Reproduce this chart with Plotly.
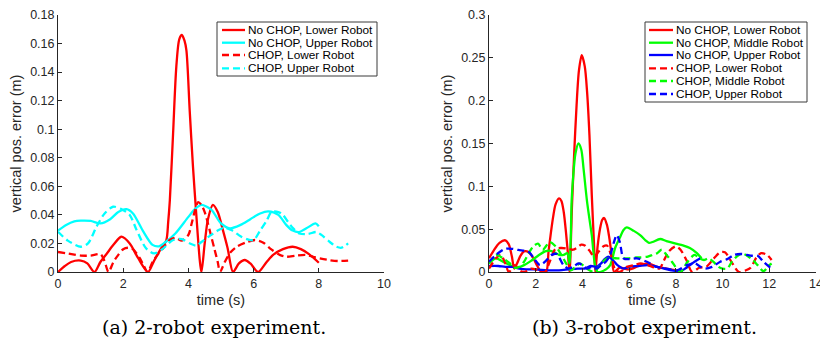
import plotly.graph_objects as go

# ---------------- data: (a) 2-robot experiment ----------------
a_names = ["No CHOP, Lower Robot", "No CHOP, Upper Robot", "CHOP, Lower Robot", "CHOP, Upper Robot"]

a_nochop_lower_t = [0, 0.2, 0.4, 0.7, 0.9, 1.12, 1.3, 1.5, 1.7, 1.94, 2.2, 2.45, 2.76, 2.95, 3.15, 3.32,
                    3.38, 3.43, 3.53, 3.63, 3.72, 3.8, 3.88, 3.94, 4.04, 4.14, 4.24, 4.35, 4.4, 4.5, 4.6,
                    4.75, 4.9, 5.05, 5.2, 5.37, 5.55, 5.73, 5.9, 6.14, 6.4, 6.6, 6.9, 7.2, 7.45, 7.7, 8.0]
a_nochop_lower_v = [0, 0.004, 0.007, 0.008, 0.006, 0, 0.007, 0.013, 0.019, 0.0247, 0.02, 0.01, 0, 0.008,
                    0.016, 0.022, 0.035, 0.05, 0.097, 0.144, 0.163, 0.166, 0.162, 0.155, 0.113, 0.074,
                    0.041, 0.008, 0, 0.02, 0.037, 0.047, 0.042, 0.03, 0.017, 0, 0.006, 0.0084, 0.006, 0,
                    0.007, 0.012, 0.016, 0.0177, 0.016, 0.0125, 0.0065]

a_nochop_upper_t = [0, 0.25, 0.5, 0.7, 1.0, 1.3, 1.6, 1.85, 2.1, 2.3, 2.6, 2.9, 3.1, 3.3, 3.6, 4.0, 4.2,
                    4.4, 4.7, 5.0, 5.27, 5.6, 5.9, 6.2, 6.45, 6.76, 7.0, 7.2, 7.4, 7.62, 7.9, 8.0]
a_nochop_upper_v = [0.029, 0.033, 0.0355, 0.036, 0.0358, 0.034, 0.037, 0.042, 0.044, 0.041, 0.029, 0.019,
                    0.018, 0.021, 0.027, 0.0386, 0.044, 0.047, 0.0437, 0.034, 0.0306, 0.033, 0.037, 0.041,
                    0.0425, 0.04, 0.033, 0.029, 0.028, 0.0306, 0.034, 0.032]

a_chop_lower_t = [0, 0.3, 0.7, 1.0, 1.3, 1.42, 1.55, 1.7, 1.85, 2.0, 2.15, 2.3, 2.5, 2.62, 2.75, 2.9,
                  3.05, 3.2, 3.4, 3.6, 3.8, 4.0, 4.1, 4.2, 4.3, 4.4, 4.5, 4.6, 4.7, 4.8, 4.9, 4.97, 5.12,
                  5.3, 5.5, 5.8, 6.05, 6.3, 6.5, 6.8, 7.0, 7.3, 7.6, 7.9, 8.3, 8.6, 8.9]
a_chop_lower_v = [0.014, 0.013, 0.0115, 0.0115, 0.0125, 0.008, 0, 0.007, 0.012, 0.016, 0.017, 0.016, 0.01,
                  0.005, 0, 0.007, 0.012, 0.016, 0.022, 0.024, 0.022, 0.026, 0.034, 0.043, 0.049, 0.047,
                  0.042, 0.034, 0.025, 0.016, 0.007, 0, 0.0072, 0.014, 0.018, 0.021, 0.0224, 0.0205,
                  0.0166, 0.012, 0.0107, 0.0115, 0.012, 0.0102, 0.0084, 0.0077, 0.008]

a_chop_upper_t = [0, 0.3, 0.7, 0.92, 1.18, 1.43, 1.69, 1.95, 2.2, 2.4, 2.7, 2.95, 3.2, 3.53, 3.8, 4.05,
                  4.25, 4.4, 4.7, 4.9, 5.1, 5.35, 5.6, 5.8, 6.0, 6.2, 6.4, 6.55, 6.76, 6.9, 7.06, 7.2,
                  7.4, 7.67, 7.92, 8.08, 8.34, 8.54, 8.7, 8.9]
a_chop_upper_v = [0.0282, 0.022, 0.0177, 0.02, 0.0317, 0.041, 0.0457, 0.044, 0.04, 0.03, 0.0166, 0.013,
                  0.016, 0.0224, 0.023, 0.02, 0.0185, 0.021, 0.026, 0.029, 0.031, 0.029, 0.025, 0.023,
                  0.0224, 0.029, 0.036, 0.042, 0.042, 0.04, 0.035, 0.031, 0.027, 0.0266, 0.028, 0.026,
                  0.021, 0.0177, 0.017, 0.02]

# ---------------- data: (b) 3-robot experiment ----------------
b_names = ["No CHOP, Lower Robot", "No CHOP, Middle Robot", "No CHOP, Upper Robot",
           "CHOP, Lower Robot", "CHOP, Middle Robot", "CHOP, Upper Robot"]

b_nochop_lower_t = [0, 0.2, 0.45, 0.7, 0.85, 0.98, 1.08, 1.2, 1.35, 1.5, 1.7, 1.9, 2.05, 2.2, 2.3, 2.45,
                    2.55, 2.65, 2.75, 2.85, 3.0, 3.1, 3.2, 3.3, 3.4, 3.45, 3.55, 3.65, 3.75, 3.85, 3.97,
                    4.1, 4.2, 4.3, 4.4, 4.5, 4.55, 4.65, 4.75, 4.85, 4.93, 5.05, 5.15, 5.25, 5.36, 5.6,
                    6.0, 6.4, 6.8, 7.2, 7.6, 8.0, 8.3]
b_nochop_lower_v = [0.016, 0.025, 0.034, 0.037, 0.032, 0.018, 0.004, 0.01, 0.019, 0.024, 0.023, 0.016,
                    0.008, 0.001, 0.0, 0.0, 0.024, 0.046, 0.065, 0.079, 0.086, 0.083, 0.07, 0.045, 0.015,
                    0.0, 0.075, 0.14, 0.195, 0.235, 0.253, 0.24, 0.21, 0.16, 0.09, 0.03, 0.0, 0.03, 0.05,
                    0.061, 0.063, 0.055, 0.04, 0.02, 0.0, 0.005, 0.003, 0.007, 0.01, 0.006, 0.004, 0.002,
                    0.001]

b_nochop_middle_t = [0, 0.3, 0.6, 0.9, 1.2, 1.5, 1.8, 2.1, 2.4, 2.6, 2.8, 3.0, 3.2, 3.35, 3.45, 3.5,
                     3.54, 3.6, 3.7, 3.83, 3.95, 4.05, 4.19, 4.3, 4.4, 4.54, 4.65, 5.0, 5.19, 5.4, 5.6,
                     5.76, 5.9, 6.2, 6.47, 6.7, 6.85, 7.0, 7.33, 7.6, 8.0, 8.3, 8.6, 8.9, 9.1]
b_nochop_middle_v = [0.01, 0.016, 0.012, 0.008, 0.005, 0.008, 0.013, 0.019, 0.024, 0.025, 0.023, 0.02,
                     0.02, 0.022, 0.01, 0.04, 0.084, 0.11, 0.138, 0.15, 0.143, 0.12, 0.084, 0.062, 0.043,
                     0.008, 0.0, 0.003, 0.008, 0.028, 0.04, 0.049, 0.052, 0.048, 0.043, 0.037, 0.034,
                     0.035, 0.0385, 0.036, 0.033, 0.031, 0.028, 0.022, 0.016]

b_nochop_upper_t = [0, 0.4, 0.7, 1.0, 1.3, 1.6, 2.0, 2.5, 3.0, 3.4, 3.8, 4.1, 4.35, 4.6, 4.8, 4.95, 5.1,
                    5.3, 5.5, 5.76, 6.0, 6.4, 6.8, 7.2, 7.5, 7.8, 8.2, 8.4, 8.6, 8.8, 9.05]
b_nochop_upper_v = [0.007, 0.007, 0.006, 0.006, 0.004, 0.003, 0.003, 0.002, 0.002, 0.003, 0.004, 0.004,
                    0.007, 0.006, 0.01, 0.015, 0.018, 0.014, 0.008, 0.004, 0.006, 0.007, 0.008, 0.006,
                    0.004, 0.002, 0.001, 0.004, 0.008, 0.012, 0.016]

b_chop_lower_t = [0, 0.3, 0.5, 0.7, 0.85, 1.1, 1.3, 1.5, 1.8, 2.0, 2.2, 2.4, 2.6, 2.85, 3.1, 3.4, 3.6,
                  3.75, 3.95, 4.1, 4.3, 4.5, 4.7, 4.9, 5.05, 5.2, 5.4, 5.6, 5.9, 6.2, 6.5, 6.8, 7.1, 7.3,
                  7.5, 7.7, 8.0, 8.2, 8.45, 8.7, 9.0, 9.3, 9.6, 9.9, 10.1, 10.4, 10.7, 11.0, 11.2, 11.45,
                  11.65, 11.9, 12.1]
b_chop_lower_v = [0.004, 0.016, 0.02, 0.01, 0.0, 0.008, 0.002, 0.0, 0.004, 0.003, 0.0, 0.0, 0.012, 0.027,
                  0.028, 0.027, 0.026, 0.028, 0.032, 0.031, 0.025, 0.018, 0.024, 0.03, 0.031, 0.022,
                  0.003, 0.0, 0.006, 0.008, 0.01, 0.008, 0.005, 0.004, 0.014, 0.024, 0.03, 0.026, 0.014,
                  0.0, 0.005, 0.006, 0.015, 0.023, 0.023, 0.011, 0.0, 0.002, 0.005, 0.017, 0.022, 0.02,
                  0.014]

b_chop_middle_t = [0, 0.3, 0.6, 0.9, 1.1, 1.3, 1.5, 1.7, 1.9, 2.1, 2.3, 2.6, 2.85, 3.1, 3.3, 3.5, 3.7,
                   3.9, 4.1, 4.3, 4.5, 4.7, 5.0, 5.2, 5.5, 5.76, 6.0, 6.3, 6.5, 6.8, 7.0, 7.2, 7.4, 7.6,
                   7.83, 8.04, 8.2, 8.5, 8.8, 9.0, 9.2, 9.4, 9.6, 9.83, 10.0, 10.2, 10.4, 10.7, 10.9,
                   11.1, 11.3, 11.5, 11.75, 12.0, 12.1]
b_chop_middle_v = [0.01, 0.02, 0.016, 0.01, 0.005, 0.006, 0.012, 0.022, 0.03, 0.033, 0.026, 0.035, 0.03,
                   0.02, 0.01, 0.002, 0.006, 0.01, 0.006, 0.002, 0.0, 0.006, 0.015, 0.016, 0.016, 0.016,
                   0.016, 0.017, 0.017, 0.018, 0.02, 0.022, 0.026, 0.02, 0.012, 0.004, 0.0, 0.012, 0.02,
                   0.016, 0.014, 0.016, 0.012, 0.006, 0.004, 0.004, 0.012, 0.02, 0.021, 0.018, 0.014,
                   0.008, 0.001, 0.008, 0.01]

b_chop_upper_t = [0, 0.3, 0.69, 1.0, 1.26, 1.69, 1.97, 2.18, 2.4, 2.69, 2.9, 3.19, 3.4, 3.6, 3.83, 4.0,
                  4.2, 4.4, 4.6, 4.8, 5.0, 5.19, 5.35, 5.47, 5.6, 5.76, 6.0, 6.33, 6.76, 7.19, 7.6, 8.05,
                  8.47, 8.83, 9.05, 9.26, 9.55, 9.9, 10.2, 10.5, 10.83, 11.2, 11.5, 11.75, 12.05]
b_chop_upper_v = [0.012, 0.02, 0.027, 0.027, 0.0257, 0.0237, 0.014, 0.008, 0.012, 0.02, 0.021, 0.008,
                  0.004, 0.006, 0.01, 0.008, 0.004, 0.006, 0.004, 0.008, 0.012, 0.02, 0.035, 0.043, 0.035,
                  0.016, 0.015, 0.016, 0.012, 0.006, 0.004, 0.002, 0.008, 0.01, 0.006, 0.004, 0.006,
                  0.012, 0.015, 0.02, 0.021, 0.019, 0.019, 0.012, 0.005]

a_x_ticks = [0, 2, 4, 6, 8, 10]
a_y_ticks = [0, 0.02, 0.04, 0.06, 0.08, 0.1, 0.12, 0.14, 0.16, 0.18]
b_x_ticks = [0, 2, 4, 6, 8, 10, 12, 14]
b_y_ticks = [0, 0.05, 0.1, 0.15, 0.2, 0.25, 0.3]

captions = ["(a) 2-robot experiment.", "(b) 3-robot experiment."]

# ---------------- styling ----------------
W, H = 820, 338
RED, CYAN, GREEN, BLUE = "#ff0000", "#00ffff", "#00ff00", "#0000ff"
DASH = "7px,4px"
AX = "#262626"
SANS = "Liberation Sans, Arial, sans-serif"
LW = 2.3


def px(x):
    return x / W


def py(y):
    return 1 - y / H


fig = go.Figure()

a_series = [
    (a_nochop_lower_t, a_nochop_lower_v, RED, "solid"),
    (a_nochop_upper_t, a_nochop_upper_v, CYAN, "solid"),
    (a_chop_lower_t, a_chop_lower_v, RED, DASH),
    (a_chop_upper_t, a_chop_upper_v, CYAN, DASH),
]
b_series = [
    (b_nochop_lower_t, b_nochop_lower_v, RED, "solid"),
    (b_nochop_middle_t, b_nochop_middle_v, GREEN, "solid"),
    (b_nochop_upper_t, b_nochop_upper_v, BLUE, "solid"),
    (b_chop_lower_t, b_chop_lower_v, RED, DASH),
    (b_chop_middle_t, b_chop_middle_v, GREEN, DASH),
    (b_chop_upper_t, b_chop_upper_v, BLUE, DASH),
]

for (t, v, c, d), name in zip(a_series, a_names):
    fig.add_trace(go.Scatter(x=t, y=v, mode="lines", name=name, showlegend=False,
                             line=dict(color=c, width=LW, dash=d, shape="spline", smoothing=0.8),
                             xaxis="x", yaxis="y"))
for (t, v, c, d), name in zip(b_series, b_names):
    fig.add_trace(go.Scatter(x=t, y=v, mode="lines", name=name, showlegend=False,
                             line=dict(color=c, width=LW, dash=d, shape="spline", smoothing=0.8),
                             xaxis="x2", yaxis="y2"))

ax_common = dict(showgrid=False, zeroline=False, showline=True, linecolor=AX, linewidth=1,
                 ticks="inside", ticklen=4, tickcolor=AX, tickwidth=1, automargin=False,
                 ticklabeloverflow="allow",
                 tickfont=dict(family=SANS, size=12.5, color=AX), mirror=False)
title_font = dict(family=SANS, size=14.5, color=AX)

ydom = [py(272), py(15)]
fig.update_layout(
    template="none",
    width=W, height=H, margin=dict(l=0, r=0, t=0, b=0, autoexpand=False),
    paper_bgcolor="white", plot_bgcolor="white", showlegend=False,
    xaxis=dict(domain=[px(58), px(384)], range=[0, 10], tickvals=a_x_ticks, anchor="y",
               title=dict(text="time (s)", font=title_font, standoff=4), **ax_common),
    yaxis=dict(domain=ydom, range=[0, 0.18], tickvals=a_y_ticks, anchor="x",
               title=dict(text="vertical pos. error (m)", font=title_font, standoff=5), **ax_common),
    xaxis2=dict(domain=[px(489), px(816)], range=[0, 14], tickvals=b_x_ticks, anchor="y2",
                title=dict(text="time (s)", font=title_font, standoff=4), **ax_common),
    yaxis2=dict(domain=ydom, range=[0, 0.3], tickvals=b_y_ticks, anchor="x2",
                title=dict(text="vertical pos. error (m)", font=title_font, standoff=5), **ax_common),
)

shapes = []
annotations = []


def add_legend(x0, x1, y0, y1, rows, names, series, line_x0, line_x1, text_x):
    shapes.append(dict(type="rect", xref="paper", yref="paper",
                       x0=px(x0), x1=px(x1), y0=py(y1), y1=py(y0),
                       line=dict(color="#3a3a3a", width=1), fillcolor="white", layer="above"))
    for ry, name, (_, _, c, d) in zip(rows, names, series):
        shapes.append(dict(type="line", xref="paper", yref="paper",
                           x0=px(line_x0), x1=px(line_x1), y0=py(ry), y1=py(ry),
                           line=dict(color=c, width=LW, dash=d), layer="above"))
        annotations.append(dict(xref="paper", yref="paper", x=px(text_x), y=py(ry), text=name,
                                showarrow=False, xanchor="left", yanchor="middle",
                                font=dict(family=SANS, size=11.8, color="black")))


add_legend(217, 377, 22, 76, [30, 42.7, 55, 68.3], a_names, a_series, 222, 245, 246)
add_legend(645, 807, 22, 102, [30, 42.7, 55, 68.3, 81, 94], b_names, b_series, 649, 673, 674)

for cx, cap in zip([214, 644], captions):
    annotations.append(dict(xref="paper", yref="paper", x=px(cx), y=py(326.5), text=cap,
                            showarrow=False, xanchor="center", yanchor="middle",
                            font=dict(family="DejaVu Serif, serif", size=19, color="black")))

fig.update_layout(shapes=shapes, annotations=annotations)
fig.write_html("out.html")
